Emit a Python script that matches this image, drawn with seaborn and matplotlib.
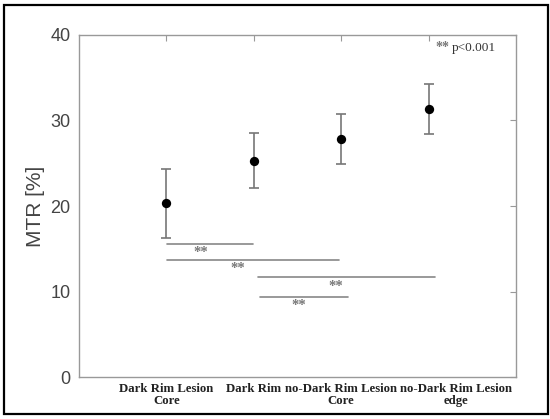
import matplotlib
matplotlib.use('Agg')
import matplotlib.pyplot as plt
import seaborn as sns
import pandas as pd
from matplotlib.patches import Rectangle


# MTR per lesion region (mean with error range)
groups = ['Dark Rim Lesion\nCore', 'Dark Rim', 'no-Dark Rim Lesion\nCore', 'no-Dark Rim Lesion\nedge']
mtr_mean = [20.3, 25.3, 27.8, 31.3]
mtr_low = [16.3, 22.1, 24.9, 28.4]
mtr_high = [24.3, 28.5, 30.8, 34.3]

# significance brackets: x extent, height, and where the ** sits
sig_start = [1.01, 1.01, 2.05, 2.07]
sig_end = [1.99, 2.97, 4.07, 3.08]
sig_levels = [15.6, 13.7, 11.7, 9.4]
sig_star_x = [1.39, 1.82, 2.94, 2.52]

df = pd.DataFrame({'pos': range(1, len(groups) + 1), 'mtr': mtr_mean,
                   'lo': mtr_low, 'hi': mtr_high})

sns.set_style('white')
plt.rcParams['font.family'] = ['Liberation Sans', 'DejaVu Sans']

fig = plt.figure(figsize=(5.5, 4.19), dpi=100)
ax = fig.add_axes([0.1436, 0.1002, 0.7946, 0.8163])

# error bars
ax.errorbar(df['pos'], df['mtr'],
            yerr=[df['mtr'] - df['lo'], df['hi'] - df['mtr']],
            fmt='none', ecolor='#777777', elinewidth=1.2, capsize=3.3, capthick=1.2, zorder=2)
sns.scatterplot(data=df, x='pos', y='mtr', color='black', s=45, edgecolor='black',
                linewidth=0, zorder=3, ax=ax, legend=False)

# significance bars
for x0, x1, lev, sx in zip(sig_start, sig_end, sig_levels, sig_star_x):
    ax.plot([x0, x1], [lev, lev], color='#888888', lw=1.2, zorder=1)
    ax.text(sx, lev - 0.3, '**', ha='center', va='top', fontsize=10.5,
            color='#777777', family='Liberation Serif', fontweight='bold')

ax.text(4.08, 38.5, '**', ha='left', va='center', fontsize=10, color='#777777',
        family='Liberation Serif', fontweight='bold')
ax.text(4.26, 38.5, 'p<0.001', ha='left', va='center', fontsize=9.5, color='#333333',
        family='Liberation Serif')

ax.set_xlim(0, 5)
ax.set_ylim(0, 40)
ax.set_yticks([0, 10, 20, 30, 40])
ax.set_xticks([1, 2, 3, 4])
ax.set_xticklabels([])
ax.tick_params(axis='both', direction='in', length=4, width=0.8, color='#999999',
               top=True, right=True, labelsize=13, labelcolor='#444444', pad=6)

# category labels under the axis
label_pos = [1, 2, 3, 4.31]
ax.xaxis.remove_overlapping_locs = False
ax.set_xticks(label_pos, minor=True)
ax.set_xticklabels(groups, minor=True, family='Liberation Serif', fontweight='bold',
                   fontsize=9.2, color='#222222', linespacing=1.1)
ax.tick_params(axis='x', which='minor', length=0, pad=4, top=False)

for s in ax.spines.values():
    s.set_color('#999999')
    s.set_linewidth(1.0)

ax.set_xlabel('')
ax.set_ylabel('MTR [%]', fontsize=15, color='#444444', labelpad=4)

# black frame around the whole figure
fig.patches.append(Rectangle((4 / 550, 5 / 419), 544 / 550, 409 / 419, transform=fig.transFigure,
                             fill=False, edgecolor='black', linewidth=1.6))

fig.savefig('out.png', dpi=100)
